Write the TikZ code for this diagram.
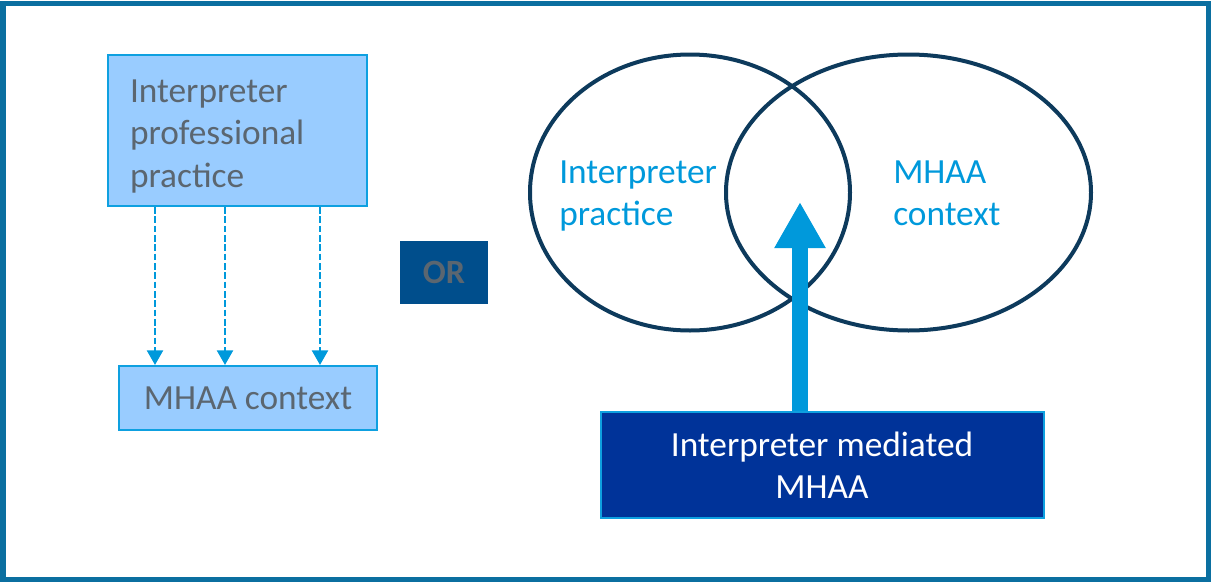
\documentclass[tikz,border=0pt]{standalone}
\usepackage{fontspec}
\setmainfont{Carlito}
\usetikzlibrary{arrows.meta,shapes.geometric}
\definecolor{frame}{HTML}{0B6FA0}
\definecolor{lightfill}{HTML}{99CCFF}
\definecolor{lightline}{HTML}{0EA0E0}
\definecolor{arrowblue}{HTML}{0099DB}
\definecolor{graytext}{HTML}{5B6670}
\definecolor{navy}{HTML}{0D3A5C}
\definecolor{orfill}{HTML}{004E8C}
\definecolor{darkbox}{HTML}{003399}
\begin{document}
\begin{tikzpicture}[x=0.75pt,y=-0.75pt,
  lightbox/.style={draw=lightline,line width=1.5pt,fill=lightfill,text=graytext,
    font=\fontsize{26.5}{32}\selectfont,inner sep=0pt},
  dasharrow/.style={draw=arrowblue,line width=1.8pt,dash pattern=on 5pt off 2pt,
    -{Triangle[width=12pt,length=11pt]}},
  venn/.style={draw=navy,line width=3pt,ellipse,inner sep=0pt},
  venntext/.style={text=arrowblue,font=\fontsize{26.5}{31.5}\selectfont,align=left,anchor=west,inner sep=0pt}]
\useasboundingbox (0,0) rectangle (1211,582);
\draw[frame,line width=3.75pt] (3,3) rectangle (1208,579);
% left side
\node[lightbox,minimum width=194.25pt,minimum height=113.25pt,
  text width=161.25pt,align=left] (A) at (237.5,130.5)
  {\rule{0pt}{26pt}Interpreter\\professional\\practice};
\node[lightbox,minimum width=193.5pt,minimum height=48pt] (M) at (248,398)
  {MHAA context};
\path (155,0) coordinate (c1) (225,0) coordinate (c2) (320,0) coordinate (c3);
\foreach \c in {c1,c2,c3}
  \draw[dasharrow] (A.south -| \c) -- (M.north -| \c);
% OR
\node[fill=orfill,minimum width=66pt,minimum height=47.25pt,inner sep=0pt,
  text=graytext,font=\fontsize{25.5}{28}\selectfont\bfseries] (OR) at (444,272.5) {OR};
% Venn
\node[venn,minimum width=240pt,minimum height=207pt] (L) at (690,192.5) {};
\node[venn,minimum width=273.75pt,minimum height=207pt] (R) at (908.5,192.5) {};
\node[venntext] (Lt) at (559,196) {Interpreter\\practice};
\node[venntext] (Rt) at (893,193) {MHAA\\context};
% bottom box
\node[draw=lightline,line width=1.5pt,fill=darkbox,text=white,
  minimum width=332.25pt,minimum height=79.5pt,inner sep=0pt,align=center,
  font=\fontsize{26.5}{31.5}\selectfont] (B) at (822,465)
  {Interpreter mediated\\MHAA};
\coordinate (tip) at (800,202);
\draw[arrowblue,line width=12pt,-{Triangle[width=36pt,length=34.5pt]}]
  (B.north -| tip) -- (tip);
\end{tikzpicture}
\end{document}
